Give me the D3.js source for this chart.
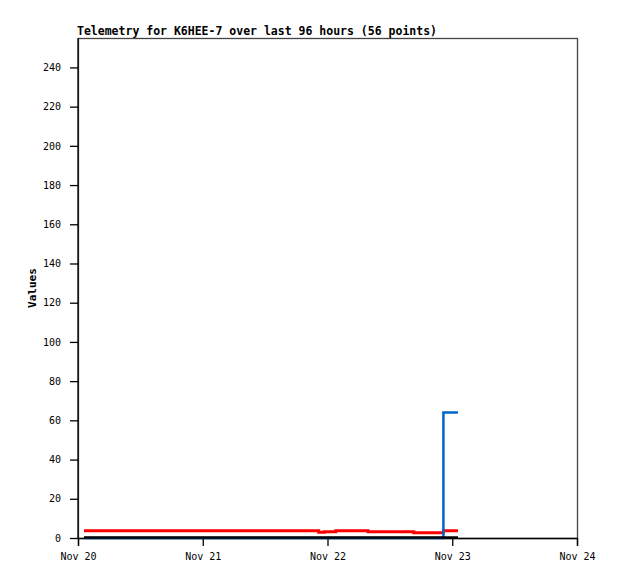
<!DOCTYPE html>
<html><head><meta charset="utf-8">
<script src="https://cdn.jsdelivr.net/npm/d3@7"></script>
<style>body{margin:0;background:#fff}</style>
</head><body>
<script>
// Data (hours since Nov 20 00:00)
const xTickLabels = ["Nov 20","Nov 21","Nov 22","Nov 23","Nov 24"];
const yTicks = [0,20,40,60,80,100,120,140,160,180,200,220,240];
const redTimes  = [1.15, 46.3, 47.4, 49.6, 55.8, 64.6, 70.3, 73.1];
const redValues = [3.7, 2.9, 3.2, 3.7, 3.2, 2.7, 3.7, 3.7];
const blackTimes  = [1.15, 73.1];
const blackValues = [0.2, 0.2];
const blueTimes  = [1.15, 70.3, 73.1];
const blueValues = [0, 64, 64];
const title = "Telemetry for K6HEE-7 over last 96 hours (56 points)";

const W = 618, H = 579;
const m = {l:78, t:38, r:577, b:538};
const svg = d3.select("body").append("svg").attr("width",W).attr("height",H);
const x = d3.scaleLinear().domain([0,96]).range([m.l, m.r]);
const y = d3.scaleLinear().domain([0,255]).range([m.b, m.t]);

// frame
svg.append("rect").attr("x",m.l+0.5).attr("y",m.t+0.5).attr("width",m.r-m.l).attr("height",m.b-m.t)
  .attr("fill","none").attr("stroke","#444").attr("stroke-width",1.3);

// y axis
const ya = svg.append("g").attr("transform",`translate(${m.l},0)`)
  .call(d3.axisLeft(y).tickValues(yTicks).tickSize(8).tickPadding(9));
ya.selectAll("path,line").attr("stroke","#000").attr("stroke-width",1.3);
ya.selectAll("text").attr("font-family","DejaVu Sans Mono").attr("font-size",10).attr("fill","#000");
ya.select(".domain").attr("d",`M0,${m.t}V${m.b}`);

// x axis
const xa = svg.append("g").attr("transform",`translate(0,${m.b})`)
  .call(d3.axisBottom(x).tickValues([0,24,48,72,96]).tickFormat((d,i)=>xTickLabels[i]).tickSize(8).tickPadding(7));
xa.selectAll("path,line").attr("stroke","#000").attr("stroke-width",1.3);
xa.selectAll("text").attr("font-family","DejaVu Sans Mono").attr("font-size",10).attr("fill","#000");

const line = d3.line().curve(d3.curveStepAfter).x(d=>x(d[0])).y(d=>y(d[1]));
function draw(ts, vs, color, w){
  svg.append("path").datum(ts.map((t,i)=>[t,vs[i]])).attr("d",line)
    .attr("fill","none").attr("stroke",color).attr("stroke-width",w);
}
draw(redTimes, redValues, "#ff0000", 3);
draw(blueTimes, blueValues, "#0066cc", 2.5);
draw(blackTimes, blackValues, "#000000", 2.5);

svg.append("text").attr("x",77).attr("y",35).text(title)
  .attr("font-family","DejaVu Sans Mono").attr("font-weight","bold").attr("font-size",11.5).attr("fill","#000");
svg.append("text").attr("transform","translate(36,288) rotate(-90)").attr("text-anchor","middle").text("Values")
  .attr("font-family","DejaVu Sans Mono").attr("font-weight","bold").attr("font-size",11).attr("fill","#000");
</script>
</body></html>
